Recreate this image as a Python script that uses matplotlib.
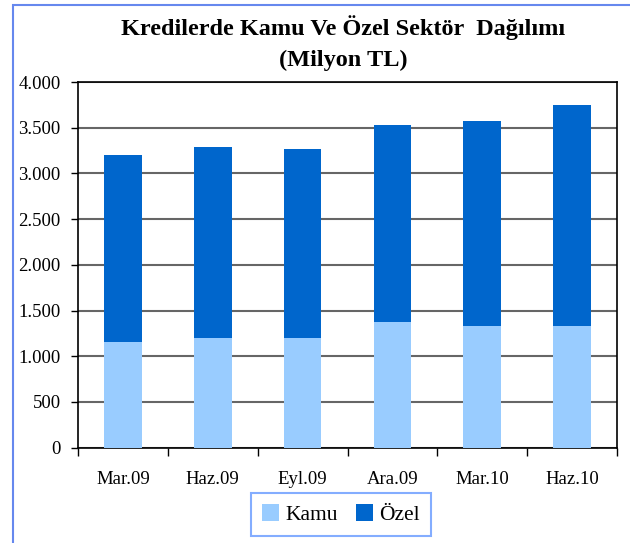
import matplotlib
matplotlib.use("Agg")
import matplotlib.pyplot as plt
from matplotlib.patches import Rectangle
from matplotlib.ticker import FuncFormatter
import numpy as np

categories = ["Mar.09", "Haz.09", "Eyl.09", "Ara.09", "Mar.10", "Haz.10"]
kamu = [1155, 1200, 1200, 1375, 1330, 1330]
ozel = [2045, 2090, 2070, 2155, 2245, 2420]
yticks = [0, 500, 1000, 1500, 2000, 2500, 3000, 3500, 4000]

plt.rcParams['font.family'] = ['Liberation Serif', 'DejaVu Serif']

fig = plt.figure(figsize=(6.3, 5.43), dpi=100)
W, H = 630, 543
ax = fig.add_axes([78 / W, 1 - 447.7 / H, 539 / W, (447.7 - 82) / H])

x = np.arange(len(categories))
ax.bar(x, kamu, width=0.42, color="#99CCFF", label="Kamu", zorder=3)
ax.bar(x, ozel, width=0.42, bottom=kamu, color="#0066CC", label="Özel", zorder=3)

ax.set_xlim(-0.5, len(categories) - 0.5)
ax.set_ylim(0, 4000)
ax.set_yticks(yticks)
ax.yaxis.set_major_formatter(FuncFormatter(lambda v, p: f"{int(v):,}".replace(",", ".")))
ax.yaxis.grid(True, color="#666666", linewidth=1.5, zorder=0)
ax.tick_params(axis="y", length=5, width=1, labelsize=13.5, pad=7.5)

ax.set_xticks(np.arange(len(categories) + 1) - 0.5)
ax.set_xticklabels([])
ax.set_xticks(x, minor=True)
ax.set_xticklabels(categories, minor=True)
ax.tick_params(axis="x", which="major", length=6, width=1, direction="out")
ax.tick_params(axis="x", which="minor", length=0, labelsize=13.5, pad=17)

for s in ax.spines.values():
    s.set_linewidth(1.2)
    s.set_color("black")

fig.text(343 / W, 1 - 28 / H, "Kredilerde Kamu Ve Özel Sektör  Dağılımı", ha="center", va="center",
         fontsize=17.5, fontweight="bold")
fig.text(343 / W, 1 - 60 / H, "(Milyon TL)", ha="center", va="center", fontsize=17.5, fontweight="bold")

leg = fig.legend(loc="center", bbox_to_anchor=(341 / W, 1 - 514.5 / H), ncol=2, fontsize=15.5,
                 frameon=True, fancybox=False, handlelength=0.8, handleheight=0.8,
                 handletextpad=0.3, columnspacing=0.8, borderpad=0.5)
leg.get_frame().set_edgecolor("#6699FF")
leg.get_frame().set_linewidth(1.5)

fig.patches.append(Rectangle((13 / W, -0.1), 1.2, 1.1 - 5 / H, transform=fig.transFigure,
                             fill=False, edgecolor="#6688EE", linewidth=1.5))

fig.savefig("out.png", dpi=100)
